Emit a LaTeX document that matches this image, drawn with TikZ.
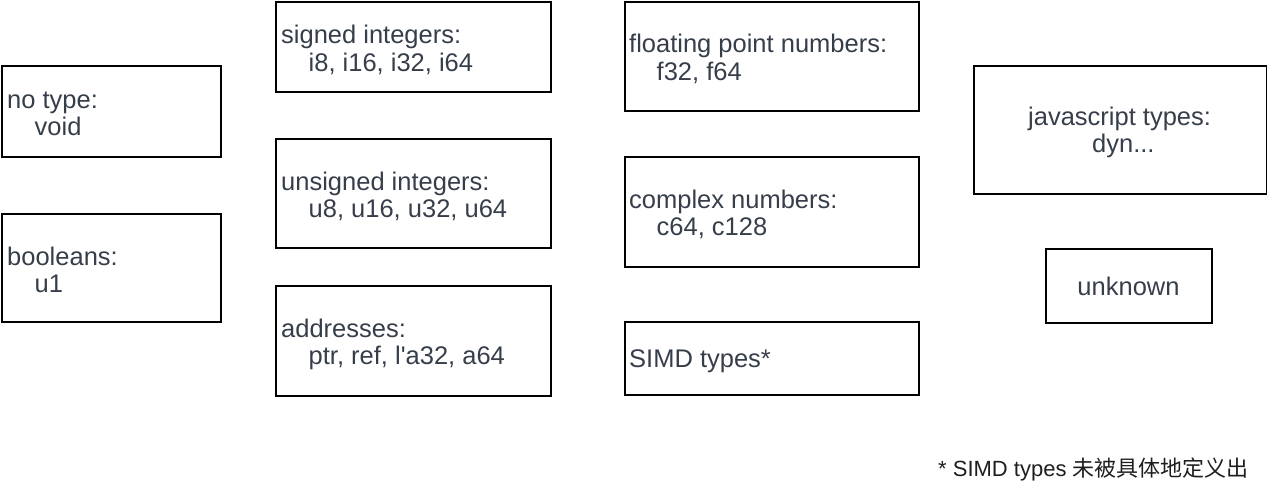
\documentclass[tikz,border=0pt]{standalone}
\usepackage{fontspec}
\setmainfont{Liberation Sans}[Ligatures=TeXOff]
\newfontfamily\cjk{Noto Sans CJK SC}
\definecolor{txt}{HTML}{363E4A}
\definecolor{foot}{HTML}{1E1E1E}
\tikzset{
  typebox/.style={draw=black, line width=2pt, rectangle, inner sep=0pt, anchor=north west},
  label/.style={anchor=base west, inner sep=0pt, align=left, text=txt,
    font=\fontsize{25.5}{27.5}\selectfont},
}
\newcommand{\ind}{\hspace*{27.5pt}}
\begin{document}
\begin{tikzpicture}[x=1pt,y=-1pt]
\useasboundingbox (0,0) rectangle (1267,488);
% boxes: (left,top), width, height
\node[typebox, minimum width=219pt, minimum height=91pt] (bnotype) at (1,65) {};
\node[typebox, minimum width=219pt, minimum height=108pt] (bbool) at (1,213) {};
\node[typebox, minimum width=275pt, minimum height=90pt] (bsigned) at (275,1) {};
\node[typebox, minimum width=275pt, minimum height=109pt] (bunsigned) at (275,138) {};
\node[typebox, minimum width=275pt, minimum height=110pt] (baddr) at (275,285) {};
\node[typebox, minimum width=294pt, minimum height=109pt] (bfloat) at (624,1) {};
\node[typebox, minimum width=294pt, minimum height=110pt] (bcomplex) at (624,156) {};
\node[typebox, minimum width=294pt, minimum height=73pt] (bsimd) at (624,321) {};
\node[typebox, minimum width=293pt, minimum height=128pt] (bjs) at (973,65) {};
\node[typebox, minimum width=166pt, minimum height=74pt] (bunknown) at (1045,248) {};
% texts (coordinate = baseline of the last line)
\node[label] (tnotype) at (7,135.5) {no type:\\\ind void};
\node[label] (tbool) at (7,292.5) {booleans:\\\ind u1};
\node[label] (tsigned) at (281,71) {signed integers:\\\ind i8, i16, i32, i64};
\node[label] (tunsigned) at (281,217.5) {unsigned integers:\\\ind u8, u16, u32, u64};
\node[label] (taddr) at (281,364.5) {addresses:\\\ind ptr, ref, l'a32, a64};
\node[label] (tfloat) at (629,80) {floating point numbers:\\\ind f32, f64};
\node[label] (tcomplex) at (629,235.5) {complex numbers:\\\ind c64, c128};
\node[label] (tsimd) at (629,367) {SIMD types*};
\node[label] (tjs) at (1028,152.5) {javascript types:\\\hspace*{64pt}dyn...};
\node[label, anchor=base] (tunknown) at (1128.5,295) {unknown};
\node[anchor=base west, inner sep=0pt, text=foot, font=\fontsize{22}{26}\selectfont] (tfoot) at (938,476) {* SIMD types {\cjk 未被具体地定义出}};
\end{tikzpicture}
\end{document}
